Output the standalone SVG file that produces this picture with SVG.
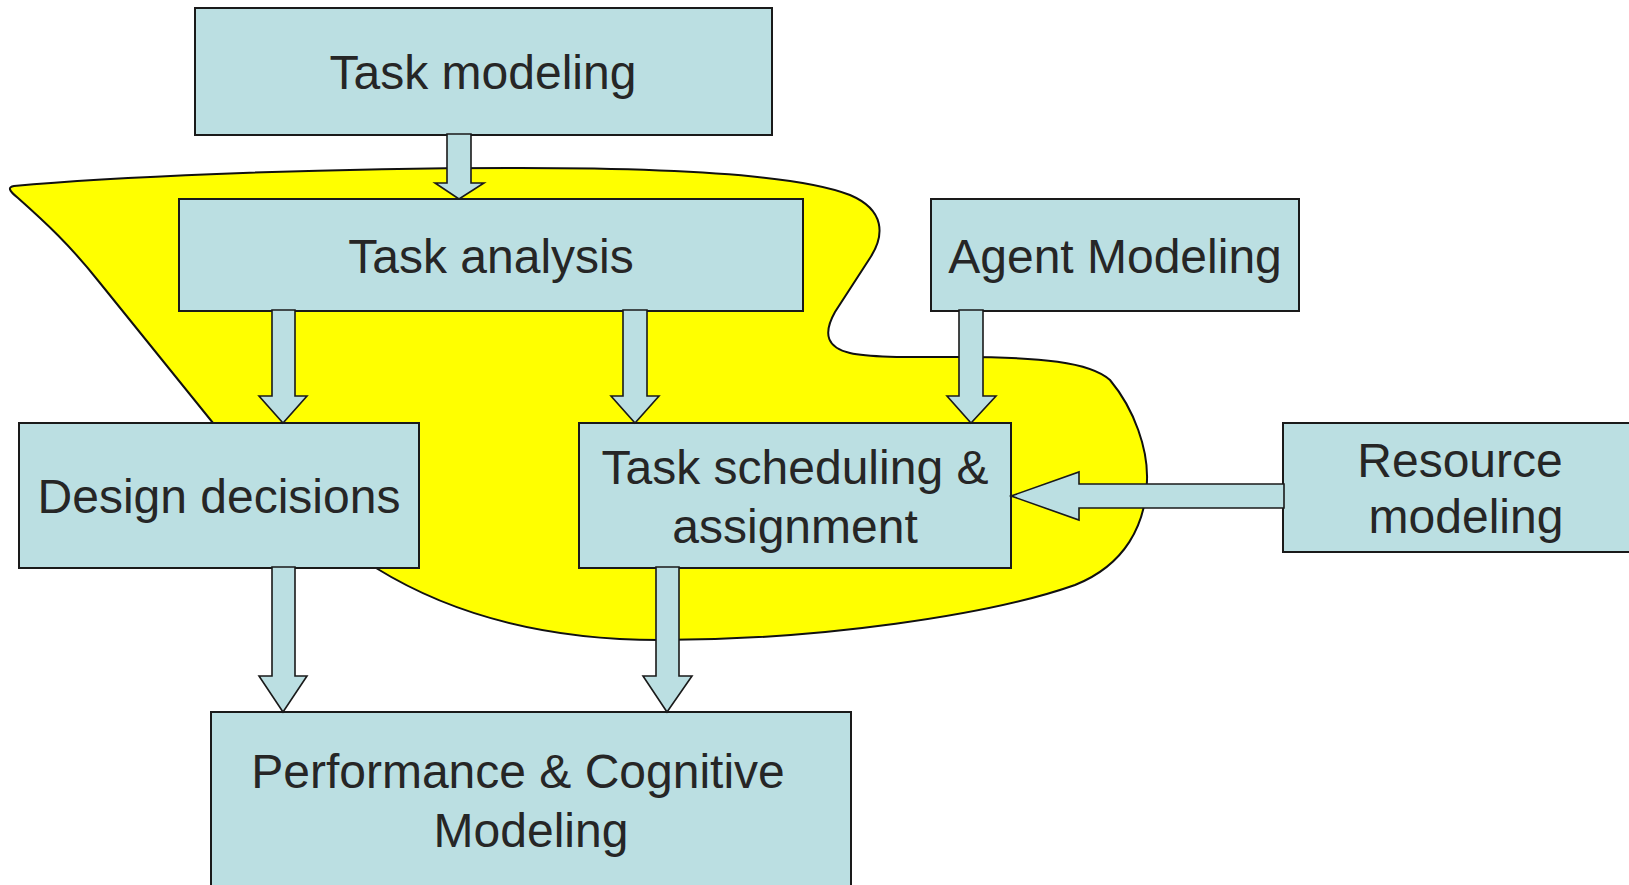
<svg xmlns="http://www.w3.org/2000/svg" width="1629" height="885" viewBox="0 0 1629 885">
  <style>
    .box { fill: #BBDFE2; stroke: #1a1a1a; stroke-width: 2; }
    .arrow { fill: #BBDFE2; stroke: #1a1a1a; stroke-width: 1.6; stroke-linejoin: miter; }
    .blob { fill: #FFFF00; stroke: #111; stroke-width: 2; }
    .label { font-family: "Liberation Sans", Arial, sans-serif; font-size: 48px; fill: #262626; text-anchor: middle; }
  </style>

  <!-- highlighted region behind the analysis stages -->
  <path id="focus-region" class="blob" d="M 14,186 C 100,178 300,168 520,168 C 680,168 800,175 850,195 C 885,210 885,235 870,258 L 835,312 C 822,335 828,348 850,353 C 870,358 920,357 960,357 C 1040,357 1090,362 1110,380 C 1135,410 1148,450 1147,480 C 1146,525 1125,565 1075,585 C 990,615 820,640 660,640 C 560,640 460,620 376,568 L 213,423 L 100,283 C 70,245 45,222 18,198 C 8,190 8,187 14,186 Z"/>

  <g id="task-modeling">
    <rect class="box" x="195" y="8" width="577" height="127"/>
    <text class="label" x="483" y="89">Task modeling</text>
  </g>

  <g id="task-analysis">
    <rect class="box" x="179" y="199" width="624" height="112"/>
    <text class="label" x="491" y="273">Task analysis</text>
  </g>

  <g id="agent-modeling">
    <rect class="box" x="931" y="199" width="368" height="112"/>
    <text class="label" x="1115" y="273">Agent Modeling</text>
  </g>

  <g id="design-decisions">
    <rect class="box" x="19" y="423" width="400" height="145"/>
    <text class="label" x="219" y="513">Design decisions</text>
  </g>

  <g id="task-scheduling">
    <rect class="box" x="579" y="423" width="432" height="145"/>
    <text class="label" x="795" y="484">Task scheduling &amp;</text>
    <text class="label" x="795" y="543">assignment</text>
  </g>

  <g id="resource-modeling">
    <rect class="box" x="1283" y="423" width="360" height="129"/>
    <text class="label" x="1460" y="477">Resource</text>
    <text class="label" x="1466" y="533">modeling</text>
  </g>

  <g id="performance-cognitive">
    <rect class="box" x="211" y="712" width="640" height="190"/>
    <text class="label" x="518" y="788">Performance &amp; Cognitive</text>
    <text class="label" x="531" y="847">Modeling</text>
  </g>

  <!-- block arrows between stages -->
  <g id="connectors">
    <polygon class="arrow" points="447,134 471,134 471,183 484,183 459,199 435,183 447,183"/>
    <polygon class="arrow" points="272,310 295,310 295,396 307,396 283,423 259,396 272,396"/>
    <polygon class="arrow" points="623,310 647,310 647,396 659,396 635,423 611,396 623,396"/>
    <polygon class="arrow" points="959,310 983,310 983,396 996,396 971,423 947,396 959,396"/>
    <polygon class="arrow" points="1284,484 1079,484 1079,472 1011,496 1079,520 1079,508 1284,508"/>
    <polygon class="arrow" points="272,567 295,567 295,676 307,676 283,712 259,676 272,676"/>
    <polygon class="arrow" points="656,567 679,567 679,676 692,676 667,712 643,676 656,676"/>
  </g>
</svg>
